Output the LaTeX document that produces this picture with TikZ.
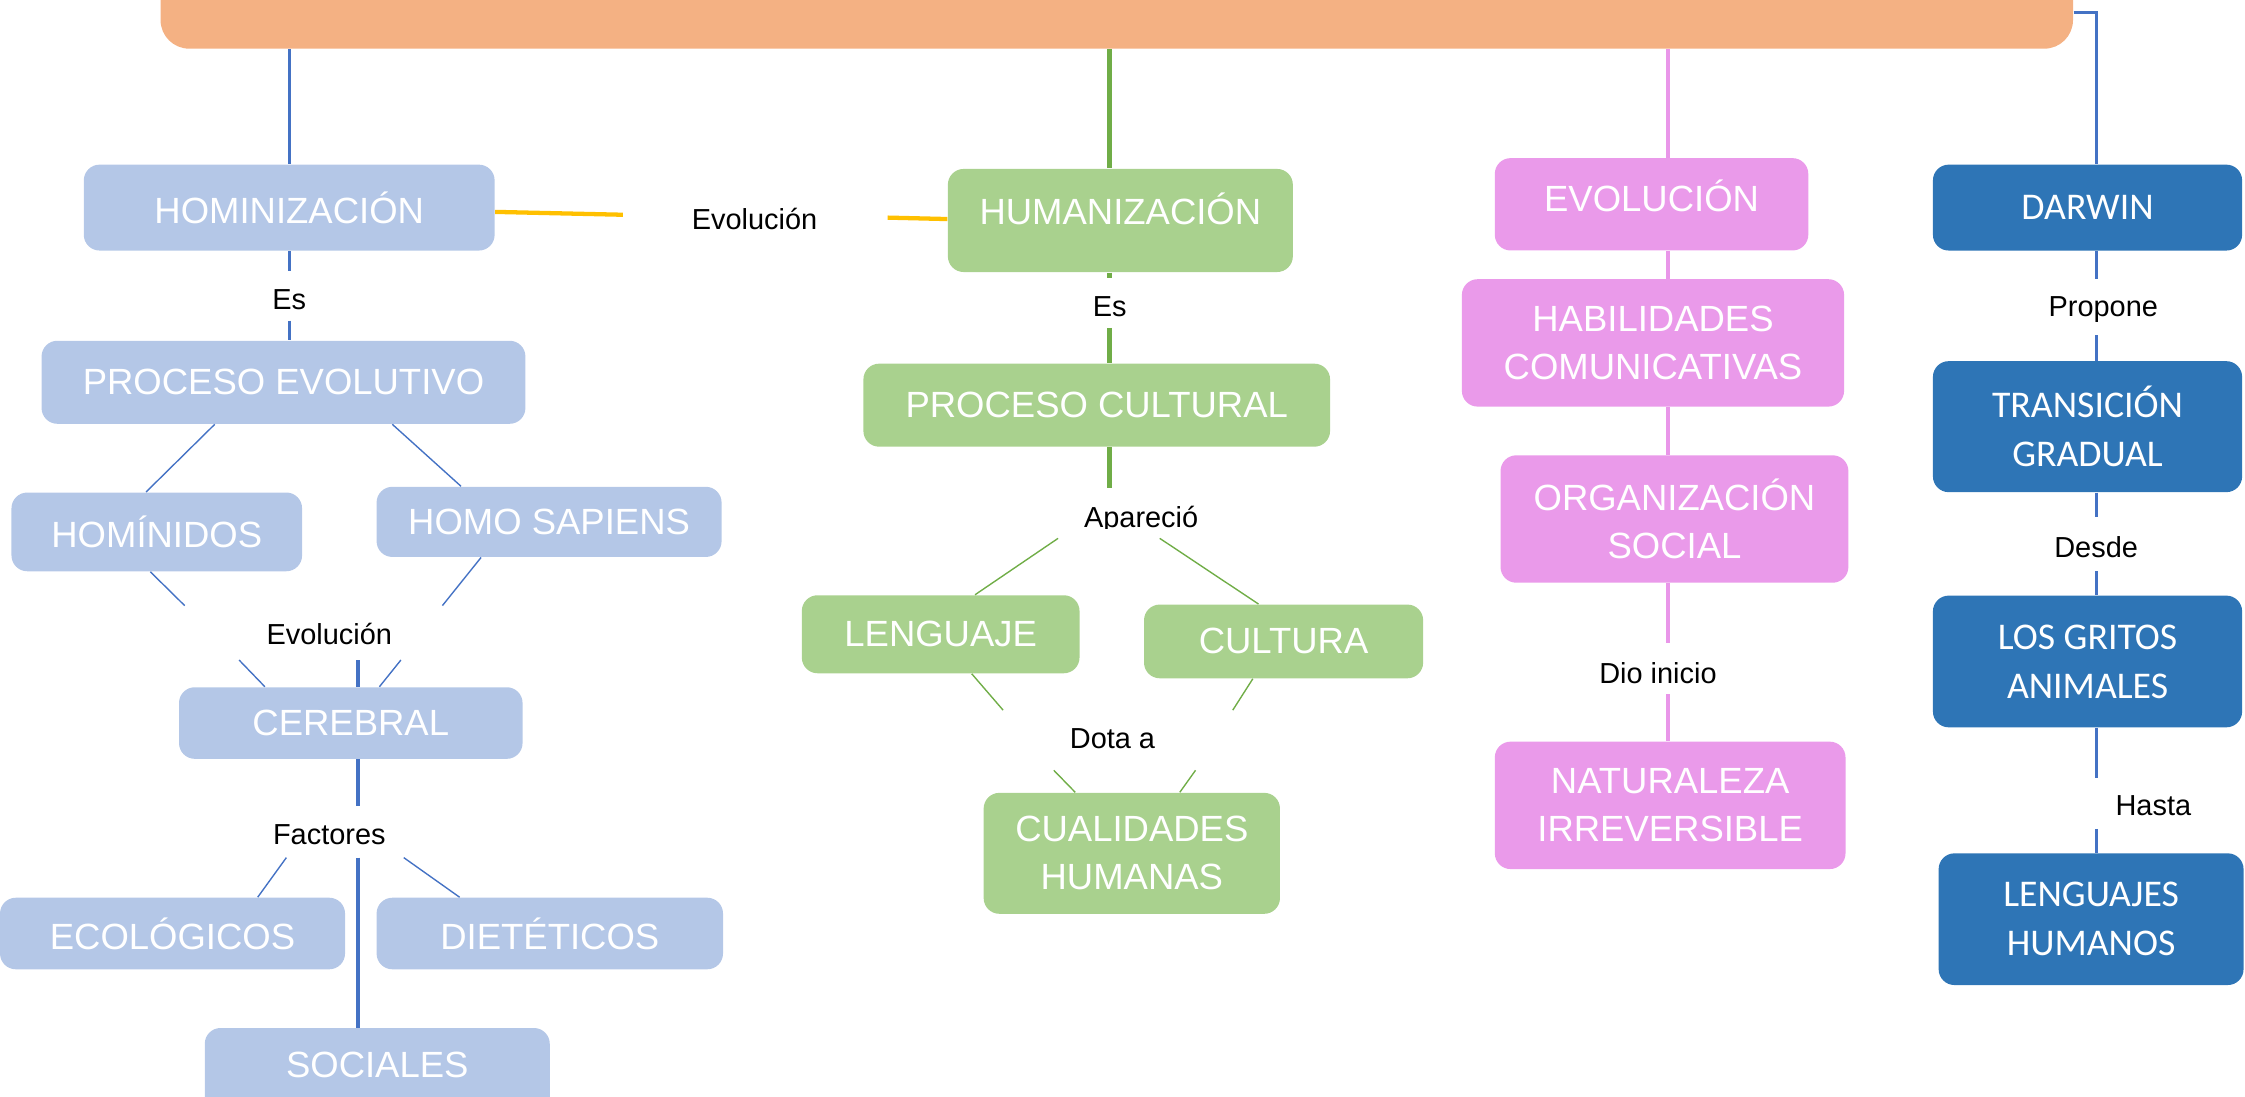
\documentclass[tikz,border=0pt]{standalone}
\usepackage{fontspec}
\setmainfont{Liberation Sans}
\newfontfamily\calfont{Carlito}
\usetikzlibrary{calc}
\definecolor{barc}{HTML}{F4B183}
\definecolor{lblue}{HTML}{B4C7E7}
\definecolor{lgreen}{HTML}{A9D18E}
\definecolor{lpink}{HTML}{EA9AEA}
\definecolor{dblue}{HTML}{2E75B6}
\definecolor{lineb}{HTML}{4472C4}
\definecolor{lineg}{HTML}{70AD47}
\definecolor{liney}{HTML}{FFC000}
\definecolor{linep}{HTML}{E996E9}
\begin{document}
\begin{tikzpicture}[x=0.02cm,y=-0.02cm,
  box/.style={rounded corners=0.22cm, inner sep=0pt, align=center, text=white,
    font=\fontsize{14.5}{19}\selectfont},
  hb/.style={box, fill=lblue},
  gb/.style={box, fill=lgreen},
  pb/.style={box, fill=lpink},
  db/.style={box, fill=dblue, font=\calfont\fontsize{15}{19.5}\selectfont},
  lab/.style={inner sep=0pt, text=black, font=\fontsize{11.5}{14}\selectfont},
  bt/.style={draw=lineb, line width=1.3pt},
  bth/.style={draw=lineb, line width=0.55pt},
  gt/.style={draw=lineg, line width=2pt},
  gth/.style={draw=lineg, line width=0.55pt},
  pt/.style={draw=linep, line width=1.8pt},
  yt/.style={draw=liney, line width=1.7pt}]
\useasboundingbox (0,0) rectangle (1568,766);
\clip (0,0) rectangle (1568,766);

% top bar
\node[fill=barc, rounded corners=0.4cm, inner sep=0pt, minimum width=26.72cm, minimum height=1.6cm] (bar) at (780,-6) {};

% ---- left column (HOMINIZACION)
\node[hb, minimum width=5.74cm, minimum height=1.2cm] (homin) at (202,145) {HOMINIZACIÓN};
\node[hb, minimum width=6.76cm, minimum height=1.16cm] (procev) at (198,267) {PROCESO EVOLUTIVO};
\node[hb, minimum width=4.06cm, minimum height=1.1cm] (hominid) at (109.5,371.5) {HOMÍNIDOS};
\node[hb, minimum width=4.82cm, minimum height=0.98cm] (sapiens) at (383.5,364.5) {HOMO SAPIENS};
\node[hb, minimum width=4.8cm, minimum height=1.0cm] (cereb) at (245,505) {CEREBRAL};
\node[hb, minimum width=4.82cm, minimum height=1.0cm] (ecol) at (120.5,652) {ECOLÓGICOS};
\node[hb, minimum width=4.84cm, minimum height=1.0cm] (diet) at (384,652) {DIETÉTICOS};
\node[hb, minimum width=4.82cm, minimum height=1.64cm] (soc) at (263.5,759) {};
\node[box] (soct) at (263.5,744) {SOCIALES};

\node[lab] (evo1) at (527,153) {Evolución};
\node[lab] (es1) at (202,209) {Es};
\node[lab] (evo2) at (230,443) {Evolución};
\node[lab] (fact) at (230,583) {Factores};

% ---- green column (HUMANIZACION)
\node[gb, minimum width=4.82cm, minimum height=1.44cm] (human) at (782.5,154) {};
\node[box] (humant) at (782.5,146) {HUMANIZACIÓN};
\node[gb, minimum width=6.52cm, minimum height=1.16cm] (proccult) at (766,283) {PROCESO CULTURAL};
\node[gb, minimum width=3.88cm, minimum height=1.09cm] (leng) at (657,443) {LENGUAJE};
\node[gb, minimum width=3.9cm, minimum height=1.03cm] (cult) at (896.5,448) {CULTURA};
\node[gb, minimum width=4.14cm, minimum height=1.69cm] (cual) at (790.5,596) {CUALIDADES\\HUMANAS};
\node[lab] (es2) at (775,214) {Es};
\begin{scope}
\clip (700,330) rectangle (900,369);
\node[lab, anchor=base] (apar) at (797,368.5) {Apareció};
\end{scope}
\node[lab] (dota) at (777,516) {Dota a};

% ---- pink column (EVOLUCION)
\node[pb, minimum width=4.38cm, minimum height=1.29cm] (evol) at (1153.5,142.7) {};
\node[box] (evolt) at (1153.5,137) {EVOLUCIÓN};
\node[pb, minimum width=5.34cm, minimum height=1.78cm] (habil) at (1154.5,239.5) {HABILIDADES\\COMUNICATIVAS};
\node[pb, minimum width=4.86cm, minimum height=1.78cm] (organ) at (1169.5,362.5) {ORGANIZACIÓN\\SOCIAL};
\node[pb, minimum width=4.9cm, minimum height=1.78cm] (natur) at (1166.5,562.5) {NATURALEZA\\IRREVERSIBLE};
\node[lab] (dio) at (1158,470) {Dio inicio};

% ---- dark blue column (DARWIN)
\node[db, minimum width=4.32cm, minimum height=1.2cm] (darwin) at (1458,145) {DARWIN};
\node[db, minimum width=4.32cm, minimum height=1.83cm] (trans) at (1458,298) {TRANSICIÓN\\GRADUAL};
\node[db, minimum width=4.32cm, minimum height=1.84cm] (gritos) at (1458,462) {LOS GRITOS\\ANIMALES};
\node[db, minimum width=4.26cm, minimum height=1.84cm] (lengh) at (1460.5,642) {LENGUAJES\\HUMANOS};
\node[lab] (prop) at (1469,216) {Propone};
\node[lab] (desde) at (1464,382) {Desde};
\node[lab] (hasta) at (1504,563) {Hasta};

% ---- free connector ends
\coordinate (esA) at (202,189);
\coordinate (esB) at (202,224);
\coordinate (evA) at (129,423);
\coordinate (evB) at (309,423);
\coordinate (evC) at (167,461);
\coordinate (evD) at (280,461);
\coordinate (evE) at (250,461);
\coordinate (faA) at (250,563);
\coordinate (faB) at (250,599);
\coordinate (faC) at (200,599);
\coordinate (faD) at (282,599);
\coordinate (yA) at (435,150);
\coordinate (yB) at (620,152);
\coordinate (g0) at (775,0);
\coordinate (gEsA) at (775,194);
\coordinate (gEsB) at (775,229);
\coordinate (gAp) at (775,341);
\coordinate (gA1) at (739,376);
\coordinate (gA2) at (810,376);
\coordinate (gD1) at (700.6,496);
\coordinate (gD2) at (861,496);
\coordinate (gD3) at (736,538);
\coordinate (gD4) at (835,538);
\coordinate (p0) at (1165,0);
\coordinate (pD1) at (1165,449);
\coordinate (pD2) at (1165,485);
\coordinate (d0) at (1464.5,8.6);
\coordinate (dP1) at (1464.5,195);
\coordinate (dP2) at (1464.5,234);
\coordinate (dD1) at (1464.5,361);
\coordinate (dD2) at (1464.5,399);
\coordinate (dH1) at (1464.5,543.5);
\coordinate (dH2) at (1464.5,579);

% ---- connectors: left
\draw[bt] (homin.north |- bar.south) -- (homin.north);
\draw[bt] (homin.south) -- (esA);
\draw[bt] (esB) -- (esB |- procev.north);
\draw[bth] ($(procev.south)+(-48,0)$) -- ($(hominid.north)+(-7.5,0)$);
\draw[bth] ($(procev.south)+(76,0)$) -- ($(sapiens.north)+(-61.5,0)$);
\draw[bth] ($(hominid.south)+(-4.5,0)$) -- (evA);
\draw[bth] ($(sapiens.south)+(-47.5,0)$) -- (evB);
\draw[bth] (evC) -- ($(cereb.north)+(-60,0)$);
\draw[bth] (evD) -- ($(cereb.north)+(20,0)$);
\draw[bt] (evE) -- (evE |- cereb.north);
\draw[bt] (faA |- cereb.south) -- (faA);
\draw[bt] (faB) -- (faB |- soc.north);
\draw[bth] (faC) -- ($(ecol.north)+(59.5,0)$);
\draw[bth] (faD) -- ($(diet.north)+(-63,0)$);
\draw[yt] ($(homin.east)+(0,3)$) -- (yA);
\draw[yt] (yB) -- ($(human.west)+(0,-1)$);

% ---- connectors: green
\draw[gt] (g0 |- bar.south) -- (g0 |- human.north);
\draw[gt] (g0 |- human.south) -- (gEsA);
\draw[gt] (gEsB) -- (gEsB |- proccult.north);
\draw[gt] (g0 |- proccult.south) -- (gAp);
\draw[gth] (gA1) -- ($(leng.north)+(24,0)$);
\draw[gth] (gA2) -- ($(cult.north)+(-17.5,0)$);
\draw[gth] ($(leng.south)+(21.7,0)$) -- (gD1);
\draw[gth] ($(cult.south)+(-21.5,0)$) -- (gD2);
\draw[gth] (gD3) -- ($(cual.north)+(-39.5,0)$);
\draw[gth] (gD4) -- ($(cual.north)+(33.5,0)$);

% ---- connectors: pink
\draw[pt] (p0 |- bar.south) -- (p0 |- evol.north);
\draw[pt] (p0 |- evol.south) -- (p0 |- habil.north);
\draw[pt] (p0 |- habil.south) -- (p0 |- organ.north);
\draw[pt] (p0 |- organ.south) -- (pD1);
\draw[pt] (pD2) -- (p0 |- natur.north);

% ---- connectors: dark blue
\draw[bt] (bar.east |- d0) -- (d0) -- (d0 |- darwin.north);
\draw[bt] (d0 |- darwin.south) -- (dP1);
\draw[bt] (dP2) -- (d0 |- trans.north);
\draw[bt] (d0 |- trans.south) -- (dD1);
\draw[bt] (dD2) -- (d0 |- gritos.north);
\draw[bt] (d0 |- gritos.south) -- (dH1);
\draw[bt] (dH2) -- (d0 |- lengh.north);
\end{tikzpicture}
\end{document}
